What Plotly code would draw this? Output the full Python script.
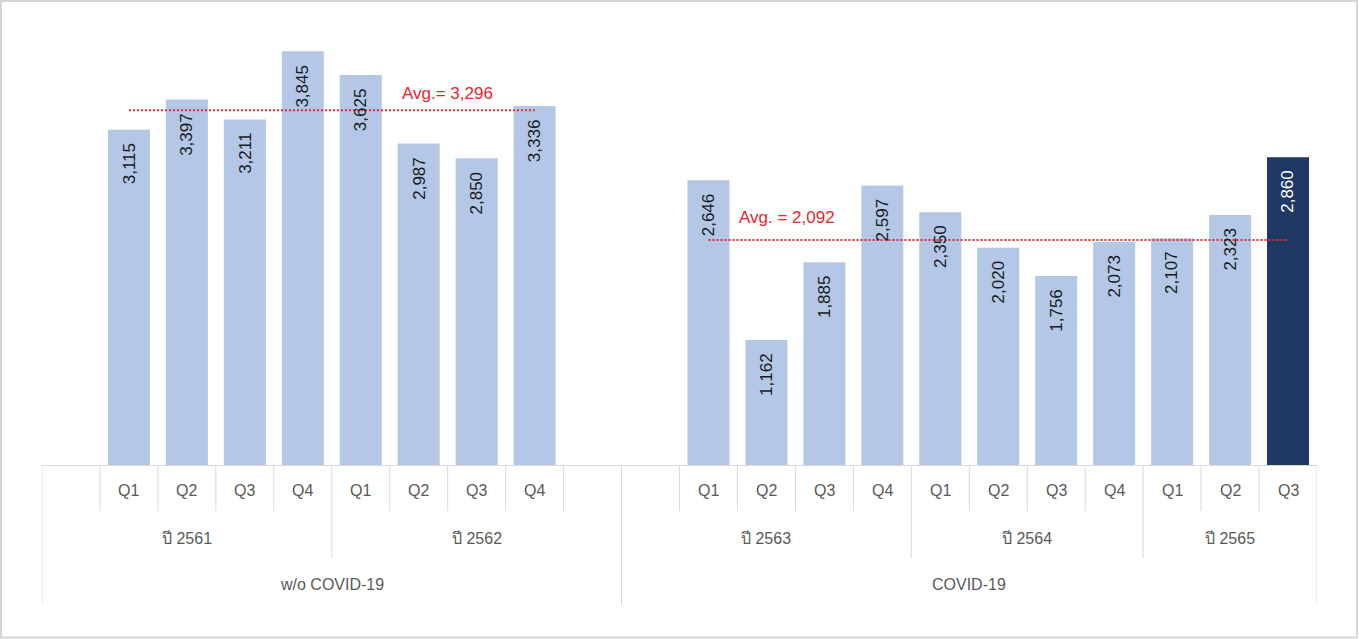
import plotly.graph_objects as go

# ---------------- data ----------------
group_names = ["w/o COVID-19", "COVID-19"]
year_labels = ["ปี 2561", "ปี 2562", "ปี 2563", "ปี 2564", "ปี 2565"]
year_group = [0, 0, 1, 1, 1]
# quarter labels per year ("" = empty slot in the source sheet)
year_quarters = [
    ["", "Q1", "Q2", "Q3", "Q4"],
    ["Q1", "Q2", "Q3", "Q4", ""],
    ["", "Q1", "Q2", "Q3", "Q4"],
    ["Q1", "Q2", "Q3", "Q4"],
    ["Q1", "Q2", "Q3"],
]
year_values = [
    [None, 3115, 3397, 3211, 3845],
    [3625, 2987, 2850, 3336, None],
    [None, 2646, 1162, 1885, 2597],
    [2350, 2020, 1756, 2073],
    [2107, 2323, 2860],
]
avg_values = [3296, 2092]
avg_labels = ["Avg.= 3,296", "Avg. = 2,092"]
highlight_label = "ปี 2565-Q3"

# ---------------- build slots ----------------
cats, quarters, values, slot_year, slot_group = [], [], [], [], []
for yi, (yl, qs, vs) in enumerate(zip(year_labels, year_quarters, year_values)):
    for k, (q, v) in enumerate(zip(qs, vs)):
        cats.append(f"{yl}-{q}" if q else f"{yl}-blank{k}")
        quarters.append(q)
        values.append(v)
        slot_year.append(yi)
        slot_group.append(year_group[yi])

bar_x = [c for c, v in zip(cats, values) if v is not None]
bar_y = [v for v in values if v is not None]
LIGHT = "#b4c7e7"
DARK = "#203864"
bar_colors = [DARK if c == highlight_label else LIGHT for c in bar_x]

FONT = "Liberation Sans, Arial, sans-serif"
W, H = 1359, 639
ML, MR, MT, MB = 42, 42, 15, 174
PW = W - ML - MR
PH = H - MT - MB
Y_MAX = PH / 0.1076


def py(p):
    """pixel row -> paper y"""
    return (H - MB - p) / PH


def px(p):
    return (p - ML) / PW


fig = go.Figure()
fig.add_trace(go.Bar(x=bar_x, y=bar_y, marker=dict(color=bar_colors, line=dict(width=0)),
                     hoverinfo="x+y", showlegend=False))

# average lines (from first to last bar of each group)
for gi in range(2):
    gx = [c for c, v, g in zip(cats, values, slot_group) if v is not None and g == gi]
    fig.add_trace(go.Scatter(x=[gx[0], gx[-1]], y=[avg_values[gi]] * 2, mode="lines",
                             line=dict(color="#e8262d", width=2, dash="2px,2px"),
                             hoverinfo="skip", showlegend=False))

annotations = []
# data labels
for c, v in zip(bar_x, bar_y):
    annotations.append(dict(x=c, y=v, xref="x", yref="y", text=f"{v:,}", textangle=-90,
                            yanchor="top", xanchor="center", yshift=-11, showarrow=False,
                            font=dict(family=FONT, size=17,
                                      color="white" if c == highlight_label else "#1a1a1a")))
# average labels
avg_pos = [(5.68, 17), (11.49, 22)]
for gi in range(2):
    annotations.append(dict(x=avg_pos[gi][0], y=avg_values[gi], xref="x", yref="y",
                            text=avg_labels[gi], xanchor="left", yanchor="middle",
                            yshift=avg_pos[gi][1], showarrow=False,
                            font=dict(family=FONT, size=17, color="#e8262d")))

# category table
Y_Q, Y_YR, Y_GR = py(511), py(558), py(605)
LABEL_COLOR = "#595959"
for c, q in zip(cats, quarters):
    if q:
        annotations.append(dict(x=c, y=py(491), xref="x", yref="paper", text=q, showarrow=False,
                                yanchor="middle", font=dict(family=FONT, size=16, color=LABEL_COLOR)))
n = len(cats)
for yi, yl in enumerate(year_labels):
    idx = [i for i in range(n) if slot_year[i] == yi]
    annotations.append(dict(x=(idx[0] + idx[-1]) / 2, y=py(538), xref="x", yref="paper", text=yl,
                            showarrow=False, yanchor="middle",
                            font=dict(family=FONT, size=16, color=LABEL_COLOR)))
for gi, gn in enumerate(group_names):
    idx = [i for i in range(n) if slot_group[i] == gi]
    annotations.append(dict(x=(idx[0] + idx[-1]) / 2, y=py(584), xref="x", yref="paper", text=gn,
                            showarrow=False, yanchor="middle",
                            font=dict(family=FONT, size=16, color=LABEL_COLOR)))

LINE = dict(color="#d9d9d9", width=1)
shapes = []
for b in range(-1, n):
    if b == -1 or b == n - 1 or slot_group[b] != slot_group[b + 1]:
        y1 = Y_GR
    elif slot_year[b] != slot_year[b + 1]:
        y1 = Y_YR
    else:
        y1 = Y_Q
    shapes.append(dict(type="line", xref="x", yref="paper", x0=b + 0.5, x1=b + 0.5,
                       y0=0, y1=y1, line=LINE, layer="below"))
# outer image frame
shapes.append(dict(type="rect", xref="paper", yref="paper", x0=px(1), x1=px(1357),
                   y0=py(1), y1=py(637.5), line=dict(color="#d6d6d6", width=2)))

fig.update_layout(
    width=W, height=H,
    margin=dict(l=ML, r=MR, t=MT, b=MB),
    paper_bgcolor="white", plot_bgcolor="white",
    bargap=0.275,
    showlegend=False,
    xaxis=dict(type="category", categoryorder="array", categoryarray=cats,
               range=[-0.5, n - 0.5], showticklabels=False, ticks="",
               showgrid=False, zeroline=False, showline=True, linecolor="#d9d9d9", linewidth=1),
    yaxis=dict(range=[0, Y_MAX], visible=False, showgrid=False, zeroline=False),
    annotations=annotations,
    shapes=shapes,
    font=dict(family=FONT),
)

fig.write_html("out.html")
